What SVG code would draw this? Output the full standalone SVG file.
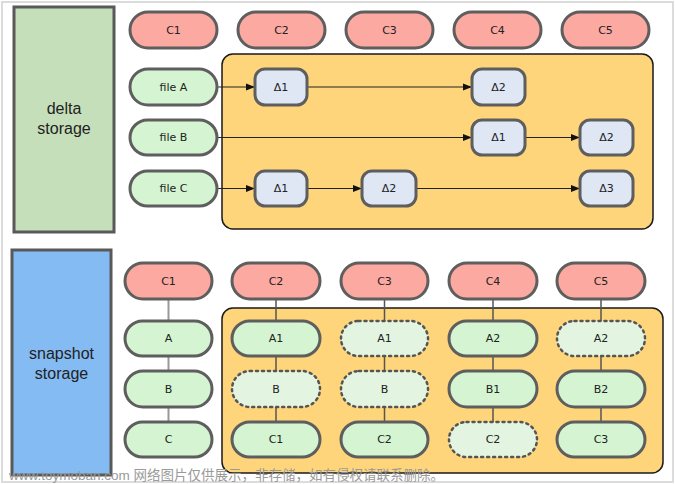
<svg xmlns="http://www.w3.org/2000/svg" width="675" height="484" viewBox="0 0 675 484">
<defs>
<marker id="ah" viewBox="0 0 10 10" refX="10" refY="5" markerWidth="9" markerHeight="9" markerUnits="userSpaceOnUse" orient="auto">
<path d="M0,1 L10,5 L0,9 z" fill="#111"/>
</marker>
<style>
.bg{fill:#fff}
.frame{fill:none;stroke:#dcdcdc;stroke-width:2}
.store{stroke:#595959;stroke-width:3}
.c{fill:#fba9a1;stroke:#5e5e5e;stroke-width:3}
.g{fill:#d4f4d2;stroke:#5e5e5e;stroke-width:3}
.gd{fill:#e3f4e1;stroke:#555;stroke-width:2.5;stroke-dasharray:2 4;stroke-linecap:round}
.d{fill:#dfe6f4;stroke:#5e5e5e;stroke-width:3}
.area{fill:#fed57a;stroke:#1a1a1a;stroke-width:1.5}
.t{font-family:"DejaVu Sans","Liberation Sans",sans-serif;font-size:11px;fill:#222;text-anchor:middle;dominant-baseline:central}
.big{font-family:"Liberation Sans",Arial,sans-serif;font-size:16px;fill:#222;text-anchor:middle}
.arr{stroke:#222;stroke-width:1.2;fill:none;marker-end:url(#ah)}
.ln{stroke:#555;stroke-width:1.5;fill:none}
.lg{stroke:#999;stroke-width:2;fill:none}
.wm{font-family:"Liberation Sans","Noto Sans CJK SC",sans-serif;font-size:13.5px;fill:#9a9a9a}
</style>
</defs>
<rect class="bg" x="0" y="0" width="675" height="484"/>
<rect class="frame" x="2" y="2" width="671" height="480"/>

<!-- top section -->
<g id="delta-storage"><rect class="store" x="14" y="7" width="100" height="225" fill="#c5dfba"/><text class="big" x="64" y="114">delta</text><text class="big" x="64" y="134">storage</text></g>
<g id="delta-area"><rect class="area" x="222" y="54" width="431" height="175" rx="11"/></g>

<g id="top-c1"><rect class="c" x="130" y="12" width="87" height="36" rx="18"/><text class="t" x="173.5" y="30">C1</text></g>
<g id="top-c2"><rect class="c" x="238" y="12" width="87" height="36" rx="18"/><text class="t" x="281.5" y="30">C2</text></g>
<g id="top-c3"><rect class="c" x="346" y="12" width="87" height="36" rx="18"/><text class="t" x="389.5" y="30">C3</text></g>
<g id="top-c4"><rect class="c" x="454" y="12" width="87" height="36" rx="18"/><text class="t" x="497.5" y="30">C4</text></g>
<g id="top-c5"><rect class="c" x="562" y="12" width="87" height="36" rx="18"/><text class="t" x="605.5" y="30">C5</text></g>

<g id="connectors-top">
<line class="arr" x1="217" y1="87" x2="255" y2="87"/>
<line class="arr" x1="307" y1="87" x2="472" y2="87"/>
<line class="arr" x1="217" y1="137.5" x2="472" y2="137.5"/>
<line class="arr" x1="525" y1="137.5" x2="580" y2="137.5"/>
<line class="arr" x1="217" y1="188.5" x2="255" y2="188.5"/>
<line class="arr" x1="307" y1="188.5" x2="362" y2="188.5"/>
<line class="arr" x1="416" y1="188.5" x2="580" y2="188.5"/>
</g>

<g id="file-a"><rect class="g" x="130" y="69" width="87" height="36" rx="18"/><text class="t" x="173.5" y="87">file A</text></g>
<g id="file-b"><rect class="g" x="130" y="120" width="87" height="35" rx="17.5"/><text class="t" x="173.5" y="137.5">file B</text></g>
<g id="file-c"><rect class="g" x="130" y="171" width="87" height="35" rx="17.5"/><text class="t" x="173.5" y="188.5">file C</text></g>

<g id="a-d1"><rect class="d" x="255" y="69" width="52" height="36" rx="10"/><text class="t" x="281" y="87">Δ1</text></g>
<g id="a-d2"><rect class="d" x="472" y="69" width="53" height="36" rx="10"/><text class="t" x="498.5" y="87">Δ2</text></g>
<g id="b-d1"><rect class="d" x="472" y="120" width="53" height="35" rx="10"/><text class="t" x="498.5" y="137.5">Δ1</text></g>
<g id="b-d2"><rect class="d" x="580" y="120" width="53" height="35" rx="10"/><text class="t" x="606.5" y="137.5">Δ2</text></g>
<g id="c-d1"><rect class="d" x="255" y="171" width="52" height="35" rx="10"/><text class="t" x="281" y="188.5">Δ1</text></g>
<g id="c-d2"><rect class="d" x="362" y="171" width="54" height="35" rx="10"/><text class="t" x="389" y="188.5">Δ2</text></g>
<g id="c-d3"><rect class="d" x="580" y="171" width="53" height="35" rx="10"/><text class="t" x="606.5" y="188.5">Δ3</text></g>

<!-- bottom section -->
<g id="snapshot-storage"><rect class="store" x="12" y="250" width="99" height="225" fill="#84bbf3"/><text class="big" x="61.5" y="359">snapshot</text><text class="big" x="61.5" y="379">storage</text></g>
<g id="snapshot-area"><rect class="area" x="222" y="308" width="441" height="165" rx="11"/></g>

<g id="connectors-bottom">
<line class="lg" x1="168.5" y1="299" x2="168.5" y2="321"/>
<line class="lg" x1="168.5" y1="356" x2="168.5" y2="371"/>
<line class="lg" x1="168.5" y1="407" x2="168.5" y2="422"/>
<line class="ln" x1="276" y1="299" x2="276" y2="321"/>
<line class="ln" x1="276" y1="356" x2="276" y2="371"/>
<line class="ln" x1="276" y1="407" x2="276" y2="422"/>
<line class="ln" x1="384.5" y1="299" x2="384.5" y2="321"/>
<line class="ln" x1="384.5" y1="356" x2="384.5" y2="371"/>
<line class="ln" x1="384.5" y1="407" x2="384.5" y2="422"/>
<line class="ln" x1="493" y1="299" x2="493" y2="321"/>
<line class="ln" x1="493" y1="356" x2="493" y2="371"/>
<line class="ln" x1="493" y1="407" x2="493" y2="422"/>
<line class="ln" x1="601" y1="299" x2="601" y2="321"/>
<line class="ln" x1="601" y1="356" x2="601" y2="371"/>
<line class="ln" x1="601" y1="407" x2="601" y2="422"/>
</g>

<g id="bot-c1"><rect class="c" x="125" y="263" width="87" height="36" rx="18"/><text class="t" x="168.5" y="281">C1</text></g>
<g id="bot-c2"><rect class="c" x="232" y="263" width="88" height="36" rx="18"/><text class="t" x="276" y="281">C2</text></g>
<g id="bot-c3"><rect class="c" x="341" y="263" width="87" height="36" rx="18"/><text class="t" x="384.5" y="281">C3</text></g>
<g id="bot-c4"><rect class="c" x="449" y="263" width="88" height="36" rx="18"/><text class="t" x="493" y="281">C4</text></g>
<g id="bot-c5"><rect class="c" x="557" y="263" width="88" height="36" rx="18"/><text class="t" x="601" y="281">C5</text></g>

<g id="c1-a"><rect class="g" x="125" y="321" width="87" height="35" rx="17.5"/><text class="t" x="168.5" y="338.5">A</text></g>
<g id="c1-b"><rect class="g" x="125" y="371" width="87" height="36" rx="18"/><text class="t" x="168.5" y="389">B</text></g>
<g id="c1-c"><rect class="g" x="125" y="422" width="87" height="35" rx="17.5"/><text class="t" x="168.5" y="439.5">C</text></g>

<g id="c2-a1"><rect class="g" x="232" y="321" width="88" height="35" rx="17.5"/><text class="t" x="276" y="338.5">A1</text></g>
<g id="c2-b"><rect class="gd" x="232" y="371" width="88" height="36" rx="18"/><text class="t" x="276" y="389">B</text></g>
<g id="c2-c1"><rect class="g" x="232" y="422" width="88" height="35" rx="17.5"/><text class="t" x="276" y="439.5">C1</text></g>

<g id="c3-a1"><rect class="gd" x="341" y="321" width="87" height="35" rx="17.5"/><text class="t" x="384.5" y="338.5">A1</text></g>
<g id="c3-b"><rect class="gd" x="341" y="371" width="87" height="36" rx="18"/><text class="t" x="384.5" y="389">B</text></g>
<g id="c3-c2"><rect class="g" x="341" y="422" width="87" height="35" rx="17.5"/><text class="t" x="384.5" y="439.5">C2</text></g>

<g id="c4-a2"><rect class="g" x="449" y="321" width="88" height="35" rx="17.5"/><text class="t" x="493" y="338.5">A2</text></g>
<g id="c4-b1"><rect class="g" x="449" y="371" width="88" height="36" rx="18"/><text class="t" x="493" y="389">B1</text></g>
<g id="c4-c2"><rect class="gd" x="449" y="422" width="88" height="35" rx="17.5"/><text class="t" x="493" y="439.5">C2</text></g>

<g id="c5-a2"><rect class="gd" x="557" y="321" width="88" height="35" rx="17.5"/><text class="t" x="601" y="338.5">A2</text></g>
<g id="c5-b2"><rect class="g" x="557" y="371" width="88" height="36" rx="18"/><text class="t" x="601" y="389">B2</text></g>
<g id="c5-c3"><rect class="g" x="557" y="422" width="88" height="35" rx="17.5"/><text class="t" x="601" y="439.5">C3</text></g>

<text class="wm" x="9" y="480">www.toymoban.com 网络图片仅供展示，非存储，如有侵权请联系删除。</text>
</svg>
